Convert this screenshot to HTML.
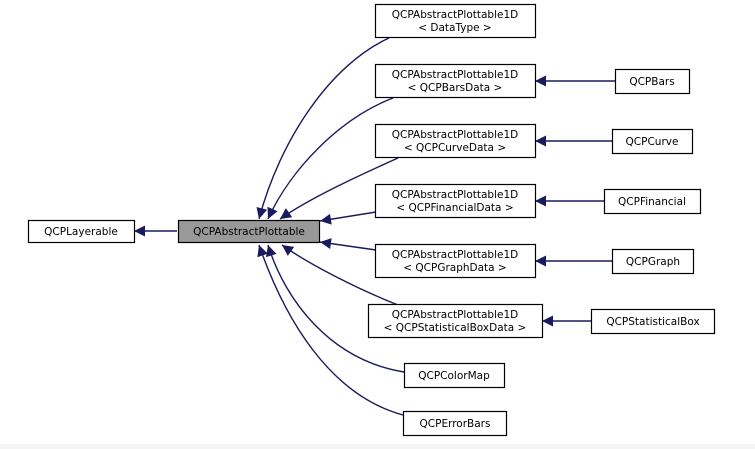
<!DOCTYPE html>
<html><head><meta charset="utf-8"><style>
html,body{margin:0;padding:0;background:#fff;}
svg{display:block;}
text{font-family:"DejaVu Sans","Liberation Sans",sans-serif;font-size:10.5px;fill:#000;}
</style></head><body>
<svg width="755" height="449" viewBox="0 0 755 449" xmlns="http://www.w3.org/2000/svg">
<defs>
<marker id="a" viewBox="0 0 10 10" refX="10" refY="5" markerWidth="14" markerHeight="11" markerUnits="userSpaceOnUse" orient="auto">
<path d="M0,0 L10,5 L0,10 z" fill="#1a1a5e"/>
</marker>
</defs>
<rect x="0" y="444" width="755" height="5" fill="#f4f4f4"/>
<g fill="none" stroke="#1a1a5e" stroke-width="1.4">
<path d="M177,231 L134,231" marker-end="url(#a)"/>
<path d="M389,38 C330,65 280,140 259,219" marker-end="url(#a)"/>
<path d="M393,98 C340,118 290,170 268,219" marker-end="url(#a)"/>
<path d="M398,158 C360,175 310,198 280,219" marker-end="url(#a)"/>
<path d="M376,212 L320,221" marker-end="url(#a)"/>
<path d="M376,250 L320,242" marker-end="url(#a)"/>
<path d="M398,305 C360,290 310,265 282,245" marker-end="url(#a)"/>
<path d="M404,372 C330,360 285,300 268,245" marker-end="url(#a)"/>
<path d="M403,415 C330,395 285,320 259,245" marker-end="url(#a)"/>
<path d="M615,81 L535,81" marker-end="url(#a)"/>
<path d="M612,141 L535,141" marker-end="url(#a)"/>
<path d="M604,201 L535,201" marker-end="url(#a)"/>
<path d="M612,261 L535,261" marker-end="url(#a)"/>
<path d="M591,321 L542,321" marker-end="url(#a)"/>
</g>
<g stroke="#000" stroke-width="1.2" fill="#fff">
<rect x="28.5" y="220.5" width="106" height="22"/>
<rect x="178.5" y="220.5" width="141" height="22" fill="#999"/>
<rect x="375.5" y="4.5" width="160" height="33"/>
<rect x="375.5" y="64.5" width="160" height="33"/>
<rect x="375.5" y="124.5" width="160" height="33"/>
<rect x="375.5" y="184.5" width="160" height="33"/>
<rect x="375.5" y="244.5" width="160" height="33"/>
<rect x="368.5" y="304.5" width="174" height="33"/>
<rect x="404.5" y="363.5" width="100" height="24"/>
<rect x="403.5" y="411.5" width="103" height="24"/>
<rect x="615.5" y="69.5" width="74" height="24"/>
<rect x="612.5" y="129.5" width="80" height="24"/>
<rect x="604.5" y="189.5" width="96" height="24"/>
<rect x="612.5" y="249.5" width="81" height="24"/>
<rect x="591.5" y="309.5" width="123" height="24"/>
</g>
<g text-anchor="middle">
<text x="81" y="235">QCPLayerable</text>
<text x="249" y="235">QCPAbstractPlottable</text>
<text x="455" y="18">QCPAbstractPlottable1D</text><text x="455" y="31">&lt; DataType &gt;</text>
<text x="455" y="78">QCPAbstractPlottable1D</text><text x="455" y="91">&lt; QCPBarsData &gt;</text>
<text x="455" y="138">QCPAbstractPlottable1D</text><text x="455" y="151">&lt; QCPCurveData &gt;</text>
<text x="455" y="198">QCPAbstractPlottable1D</text><text x="455" y="211">&lt; QCPFinancialData &gt;</text>
<text x="455" y="258">QCPAbstractPlottable1D</text><text x="455" y="271">&lt; QCPGraphData &gt;</text>
<text x="455" y="318">QCPAbstractPlottable1D</text><text x="455" y="331">&lt; QCPStatisticalBoxData &gt;</text>
<text x="454" y="379">QCPColorMap</text>
<text x="455" y="427">QCPErrorBars</text>
<text x="652" y="85">QCPBars</text>
<text x="652" y="145">QCPCurve</text>
<text x="652" y="205">QCPFinancial</text>
<text x="653" y="265">QCPGraph</text>
<text x="653" y="325">QCPStatisticalBox</text>
</g>
</svg>
</body></html>
